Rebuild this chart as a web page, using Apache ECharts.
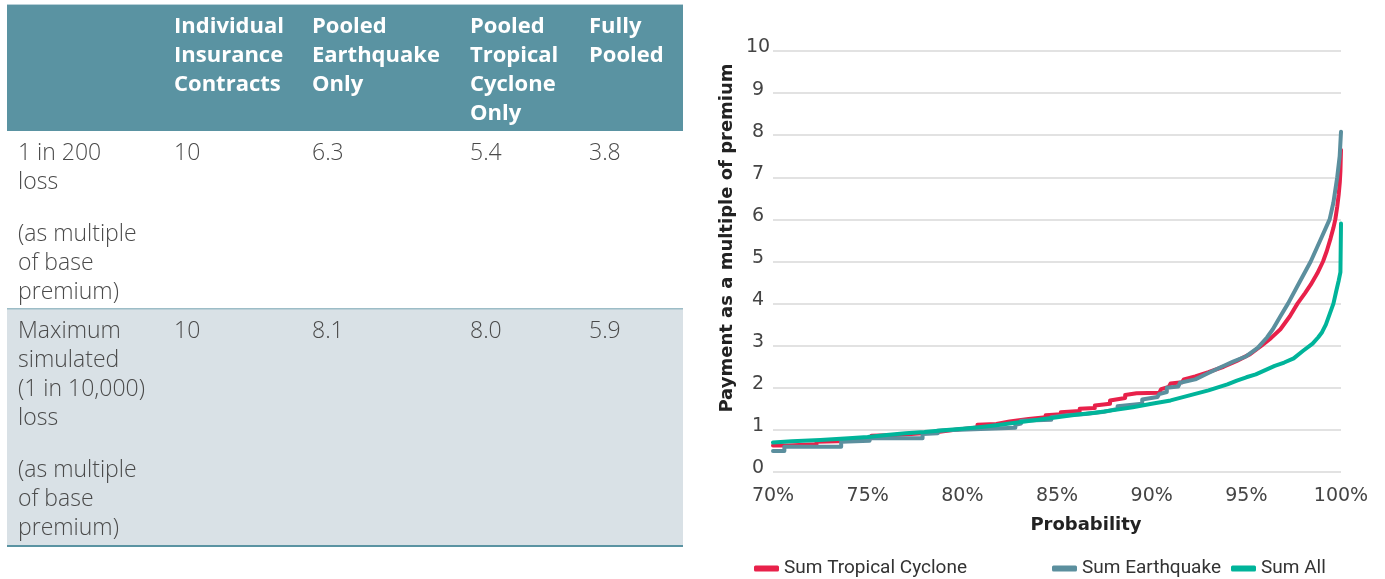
<!DOCTYPE html>
<html>
<head>
<meta charset="utf-8">
<title>Pooled catastrophe payments</title>
<script src="https://cdn.jsdelivr.net/npm/echarts@6/dist/echarts.min.js"></script>
<style>
  html, body { margin: 0; padding: 0; background: #ffffff; }
  #main { width: 1385px; height: 579px; }
</style>
</head>
<body>
<div id="main"></div>
<script>
// ---- Table content ----
const tableHeaders = [
  ['Individual', 'Insurance', 'Contracts'],
  ['Pooled', 'Earthquake', 'Only'],
  ['Pooled', 'Tropical', 'Cyclone', 'Only'],
  ['Fully', 'Pooled']
];
const rowLabelMain = [
  ['1 in 200', 'loss'],
  ['Maximum', 'simulated', '(1 in 10,000)', 'loss']
];
const rowLabelNote = ['(as multiple', 'of base', 'premium)'];
const rowValues = [
  ['10', '6.3', '5.4', '3.8'],
  ['10', '8.1', '8.0', '5.9']
];

// ---- Chart content: [probability %, payment as multiple of premium] ----
// Repeated x values mark the jumps of the simulated step curves.
const xTicks = [70, 75, 80, 85, 90, 95, 100];
const sumTropicalCyclone = [
  [70, 0.63], [70.8, 0.63], [70.8, 0.66], [72.3, 0.66], [72.3, 0.72], [74.5, 0.74],
  [74.5, 0.79], [75.2, 0.8], [75.2, 0.86], [76.5, 0.88], [76.5, 0.91], [78.5, 0.94],
  [78.5, 0.97], [79.5, 1.0], [79.5, 1.03], [80.8, 1.06], [80.8, 1.12], [81.8, 1.14],
  [81.8, 1.18], [82.5, 1.2], [82.5, 1.24], [83.5, 1.26], [83.5, 1.29], [84.4, 1.3],
  [84.4, 1.35], [85.2, 1.37], [85.2, 1.42], [86.2, 1.45], [86.2, 1.5], [87, 1.52],
  [87, 1.58], [87.8, 1.62], [87.8, 1.7], [88.6, 1.76], [88.6, 1.83], [89.2, 1.87],
  [90.4, 1.88], [90.5, 1.97], [90.9, 2.02], [91, 2.1], [91.6, 2.13], [91.7, 2.2],
  [92.3, 2.27], [93, 2.37], [93.8, 2.5], [94.5, 2.64], [95.2, 2.8], [95.8, 3.0],
  [96.3, 3.18], [96.8, 3.39], [97.3, 3.7], [97.7, 4.0], [98.1, 4.25], [98.4, 4.45],
  [98.75, 4.72], [99.05, 5.0], [99.25, 5.25], [99.45, 5.55], [99.6, 5.8], [99.7, 6.0],
  [99.8, 6.3], [99.88, 6.6], [99.94, 6.9], [99.97, 7.15], [100, 7.65]
];
const sumEarthquake = [
  [70, 0.5], [70.6, 0.5], [70.6, 0.6], [73.6, 0.6], [73.6, 0.72], [75.1, 0.74],
  [75.1, 0.8], [77.9, 0.8], [77.9, 0.9], [78.7, 0.92], [78.7, 0.98], [79.5, 1.0],
  [79.5, 1.03], [82.8, 1.05], [82.8, 1.12], [83.1, 1.15], [83.1, 1.22], [84.7, 1.24],
  [84.7, 1.3], [85.5, 1.35], [86.5, 1.38], [87.5, 1.43], [88.2, 1.5], [88.2, 1.56],
  [89.5, 1.62], [89.5, 1.72], [90.3, 1.78], [90.4, 1.85], [90.8, 1.9], [90.8, 2.0],
  [91.4, 2.03], [91.5, 2.12], [92.3, 2.2], [93, 2.35], [93.7, 2.5], [94.3, 2.62],
  [95, 2.75], [95.6, 2.95], [96.1, 3.2], [96.4, 3.39], [96.8, 3.7], [97.2, 4.0],
  [97.8, 4.5], [98.4, 5.0], [98.9, 5.5], [99.4, 6.0], [99.6, 6.4], [99.8, 7.0],
  [99.93, 7.5], [100, 8.08]
];
const sumAll = [
  [70, 0.7], [71, 0.73], [72.5, 0.76], [74, 0.8], [75, 0.83], [76, 0.88], [77, 0.92],
  [78, 0.95], [79, 0.99], [80, 1.03], [81, 1.07], [82, 1.12], [83, 1.18], [84, 1.24],
  [85, 1.3], [86, 1.36], [87, 1.41], [88, 1.47], [89, 1.54], [90, 1.62], [91, 1.7],
  [92, 1.82], [93, 1.94], [94, 2.08], [94.5, 2.17], [95, 2.25], [95.5, 2.32], [96, 2.42],
  [96.5, 2.52], [97, 2.6], [97.5, 2.7], [98, 2.88], [98.5, 3.05], [98.8, 3.2], [99, 3.32],
  [99.2, 3.5], [99.4, 3.75], [99.6, 4.0], [99.75, 4.3], [99.88, 4.55], [99.97, 4.75],
  [100, 5.9]
];

const COLORS = { tc: '#E8214A', eq: '#5B8F9E', all: '#00B49A' };
const HEADER_BG = '#5A93A2';
const ROW2_BG = '#D9E1E6';
const TEXT = '#4A4A4A';
const FONT = '"Open Sans", "Liberation Sans", sans-serif';
const AXIS_FONT = '"DejaVu Sans", sans-serif';
const LEGEND_FONT = 'Roboto, "Open Sans", sans-serif';

// ---- Table built from graphic elements ----
const colX = [18, 174, 312, 470, 589];
const LINE_H = 29;
const graphics = [];

graphics.push({ type: 'rect', shape: { x: 7, y: 4, width: 676, height: 1 }, style: { fill: '#B8D0D8' } });
graphics.push({ type: 'rect', shape: { x: 7, y: 5, width: 676, height: 125 }, style: { fill: HEADER_BG } });
tableHeaders.forEach((lines, i) => {
  graphics.push({
    type: 'text', x: colX[i + 1], y: 12,
    style: { text: lines.join('\n'), fill: '#FFFFFF', font: 'bold 22px ' + FONT, lineHeight: LINE_H }
  });
});
graphics.push({ type: 'rect', shape: { x: 7, y: 309, width: 676, height: 237 }, style: { fill: ROW2_BG } });
graphics.push({ type: 'rect', shape: { x: 7, y: 129, width: 676, height: 2 }, style: { fill: HEADER_BG } });
graphics.push({ type: 'rect', shape: { x: 7, y: 308, width: 676, height: 1.5 }, style: { fill: '#9DBDC7' } });
graphics.push({ type: 'rect', shape: { x: 7, y: 545, width: 676, height: 2 }, style: { fill: HEADER_BG } });

const rowTop = [139, 317];
const noteTop = [220, 456];
const bodyFont = '300 23px ' + FONT;
rowLabelMain.forEach((lines, r) => {
  graphics.push({
    type: 'text', x: colX[0], y: rowTop[r],
    style: { text: lines.join('\n'), fill: TEXT, font: bodyFont, lineHeight: LINE_H }
  });
  graphics.push({
    type: 'text', x: colX[0], y: noteTop[r],
    style: { text: rowLabelNote.join('\n'), fill: TEXT, font: bodyFont, lineHeight: LINE_H }
  });
  rowValues[r].forEach((v, c) => {
    graphics.push({
      type: 'text', x: colX[c + 1], y: rowTop[r],
      style: { text: v, fill: TEXT, font: bodyFont, lineHeight: LINE_H }
    });
  });
});

// ---- Axis titles ----
graphics.push({
  type: 'text', x: 727, y: 238, rotation: Math.PI / 2,
  style: { text: 'Payment as a multiple of premium', fill: '#222', font: 'bold 18px ' + AXIS_FONT, align: 'center', verticalAlign: 'middle' }
});
graphics.push({
  type: 'text', x: 1086, y: 525,
  style: { text: 'Probability', fill: '#222', font: 'bold 18px ' + AXIS_FONT, align: 'center', verticalAlign: 'middle' }
});

const legendBase = {
  top: 554, icon: 'roundRect', itemWidth: 25, itemHeight: 6, itemGap: 6,
  textStyle: { fontFamily: LEGEND_FONT, fontSize: 19, color: '#333' }
};

const chart = echarts.init(document.getElementById('main'), null, { renderer: 'canvas' });
chart.setOption({
  animation: false,
  graphic: graphics,
  grid: { left: 773, right: 44, top: 51, bottom: 107, containLabel: false },
  xAxis: {
    type: 'value', min: xTicks[0], max: xTicks[xTicks.length - 1], interval: 5,
    axisLine: { show: false }, axisTick: { show: false }, splitLine: { show: false },
    axisLabel: { formatter: '{value}%', fontFamily: AXIS_FONT, fontSize: 19, color: '#444', margin: 15 }
  },
  yAxis: {
    type: 'value', min: 0, max: 10, interval: 1,
    axisLine: { show: false }, axisTick: { show: false },
    splitLine: { lineStyle: { color: '#D9D9D9', width: 1.5 } },
    axisLabel: { fontFamily: AXIS_FONT, fontSize: 19, color: '#444', align: 'center', margin: 15, verticalAlign: 'bottom', padding: [0, 0, -6, 0] }
  },
  legend: [
    Object.assign({}, legendBase, { left: 749, data: ['Sum Tropical Cyclone'] }),
    Object.assign({}, legendBase, { left: 1047, data: ['Sum Earthquake'] }),
    Object.assign({}, legendBase, { left: 1226, data: ['Sum All'] })
  ],
  series: [
    {
      name: 'Sum Tropical Cyclone', type: 'line', data: sumTropicalCyclone,
      showSymbol: false, color: COLORS.tc, lineStyle: { width: 4, cap: 'round', join: 'round' }
    },
    {
      name: 'Sum Earthquake', type: 'line', data: sumEarthquake,
      showSymbol: false, color: COLORS.eq, lineStyle: { width: 4, cap: 'round', join: 'round' }
    },
    {
      name: 'Sum All', type: 'line', data: sumAll,
      showSymbol: false, color: COLORS.all, lineStyle: { width: 4, cap: 'round', join: 'round' }
    }
  ]
});
</script>
</body>
</html>
